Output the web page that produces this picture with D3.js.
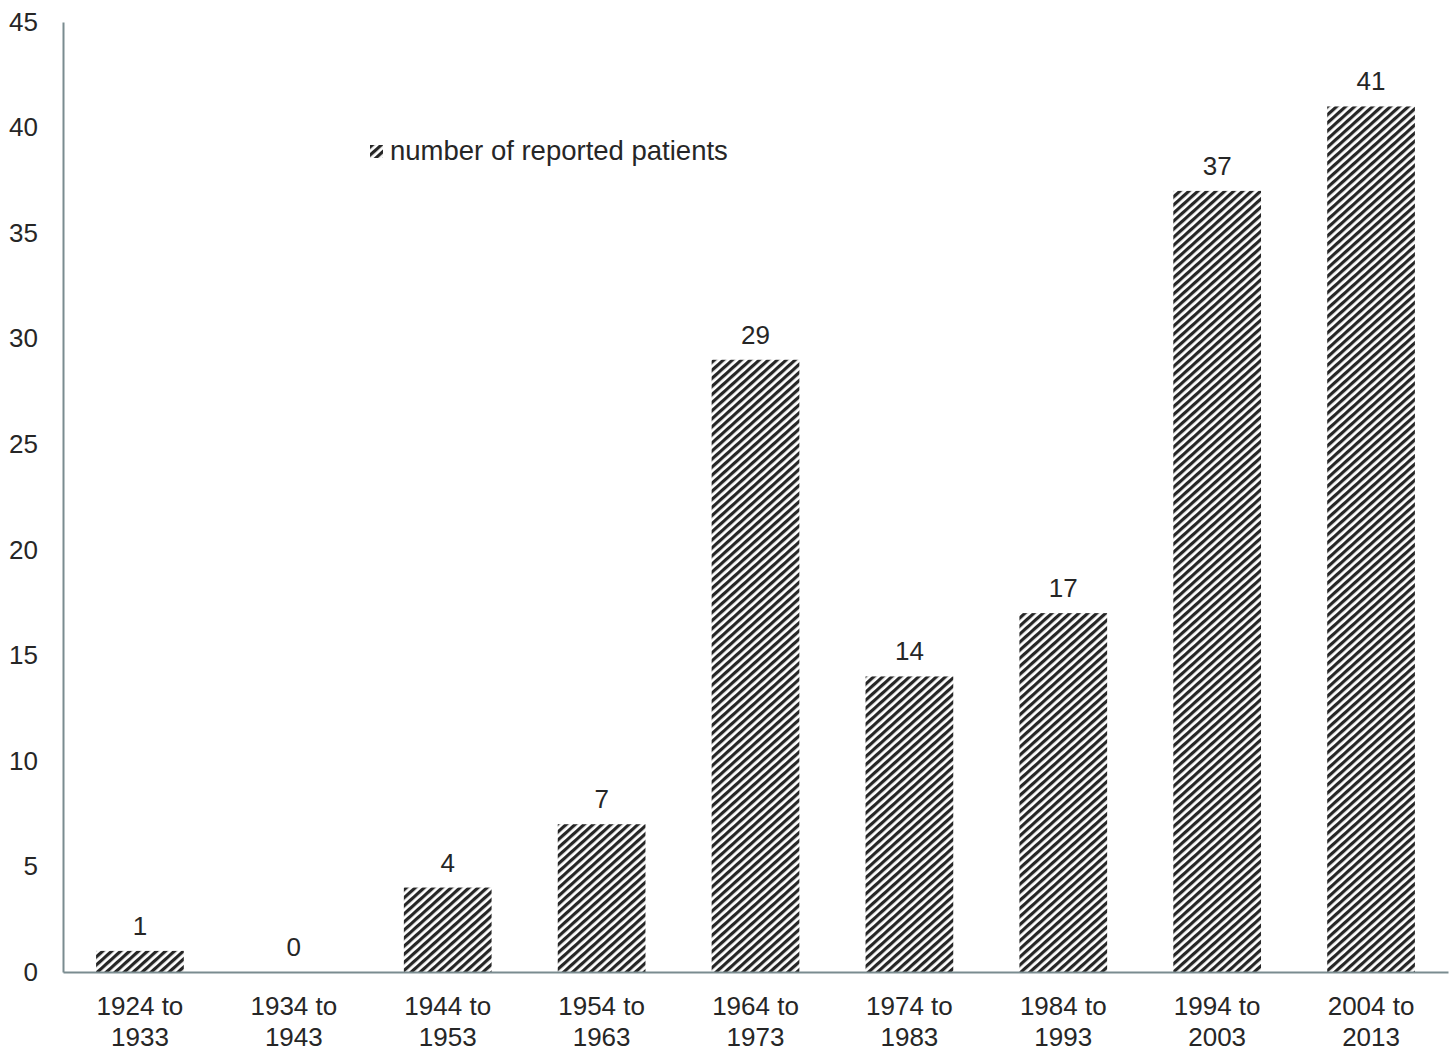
<!DOCTYPE html>
<html><head><meta charset="utf-8">
<script src="https://cdn.jsdelivr.net/npm/d3@7"></script>
<style>body{margin:0;background:#fff}svg text{font-family:"Liberation Sans",Arial,sans-serif;fill:#262626}</style>
</head><body>
<svg id="c" width="1450" height="1051"></svg>
<script>
const categories = ["1924 to|1933","1934 to|1943","1944 to|1953","1954 to|1963","1964 to|1973","1974 to|1983","1984 to|1993","1994 to|2003","2004 to|2013"];
const values = [1,0,4,7,29,14,17,37,41];
const yTicks = [0,5,10,15,20,25,30,35,40,45];
const seriesName = "number of reported patients";

const svg = d3.select("#c");
const m = {l:63, r:2, t:22, b:79};
const W = 1450, H = 1051;
const FS = 26;
const x = d3.scaleBand().domain(categories).range([m.l, W - m.r]).paddingInner(0.43).paddingOuter(0.215);
const y = d3.scaleLinear().domain([0,45]).range([H - m.b, m.t]);

const defs = svg.append("defs");
const pat = defs.append("pattern").attr("id","hatch").attr("patternUnits","userSpaceOnUse")
  .attr("width",6).attr("height",6).attr("patternTransform","rotate(48)");
pat.append("rect").attr("width",6).attr("height",6).attr("fill","#fff");
pat.append("rect").attr("x",0).attr("width",3.2).attr("height",6).attr("fill","#262626");

// bars
svg.append("g").selectAll("rect").data(values).join("rect")
  .attr("x",(d,i)=>x(categories[i])).attr("width",x.bandwidth())
  .attr("y",d=>y(d)).attr("height",d=>y(0)-y(d))
  .attr("fill","url(#hatch)");

// value labels
svg.append("g").selectAll("text").data(values).join("text")
  .attr("x",(d,i)=>x(categories[i])+x.bandwidth()/2).attr("y",d=>y(d)-16)
  .attr("text-anchor","middle").attr("font-size",FS).text(d=>d);

// y axis
const ya = svg.append("g").attr("transform",`translate(${m.l},0)`)
  .call(d3.axisLeft(y).tickValues(yTicks).tickSize(0).tickPadding(25));
ya.select(".domain").attr("stroke","#7a8c90").attr("stroke-width",2);
ya.selectAll("text").attr("font-size",FS).attr("font-family","Liberation Sans, Arial, sans-serif").attr("fill","#262626");

// x axis
const xa = svg.append("g").attr("transform",`translate(0,${y(0)})`)
  .call(d3.axisBottom(x).tickSize(0).tickFormat(""));
xa.select(".domain").attr("stroke","#7a8c90").attr("stroke-width",2);
xa.selectAll(".tick").each(function(d){
  const parts = d.split("|");
  const t = d3.select(this).append("text").attr("text-anchor","middle").attr("font-size",FS)
    .attr("fill","#262626").attr("font-family","Liberation Sans, Arial, sans-serif");
  parts.forEach((p,i)=>t.append("tspan").attr("x",0).attr("y",43+i*31).text(p));
});

// legend
const lg = svg.append("g").attr("transform","translate(370,145)");
lg.append("rect").attr("width",13).attr("height",13).attr("fill","url(#hatch)");
lg.append("text").attr("x",20).attr("y",15).attr("font-size",27.5).text(seriesName);
</script>
</body></html>
